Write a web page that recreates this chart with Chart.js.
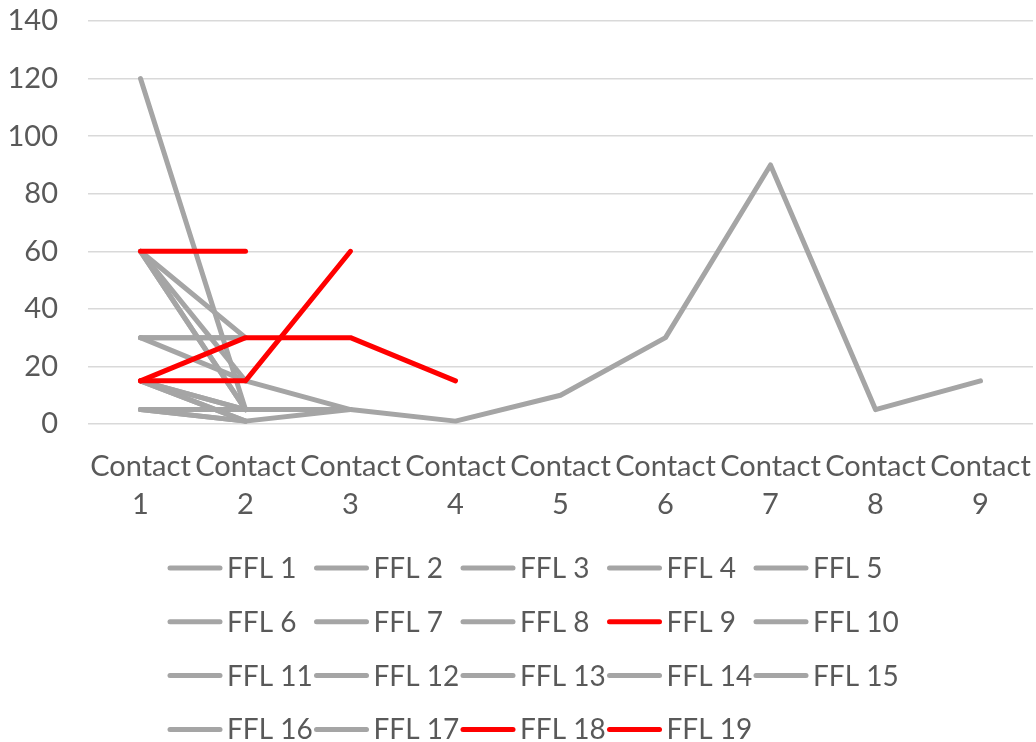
<!DOCTYPE html>
<html lang="en">
<head>
    <meta charset="UTF-8">
    <title>FFL contacts</title>
    <script src="https://cdn.jsdelivr.net/npm/chart.js"></script>
    <style>
        html, body {
            margin: 0;
            padding: 0;
            background: #ffffff;
        }
        #wrap {
            width: 1036px;
            height: 742px;
        }
    </style>
</head>
<body>
    <div id="wrap"><canvas id="chart"></canvas></div>

    <script>
        const contacts = ['1', '2', '3', '4', '5', '6', '7', '8', '9'];
        const yTicks = [0, 20, 40, 60, 80, 100, 120, 140];

        const ffl1 = [120, 5];
        const ffl2 = [60, 30];
        const ffl3 = [60, 15];
        const ffl4 = [60, 5];
        const ffl5 = [30, 30];
        const ffl6 = [30, 15, 5, 1, 10, 30, 90, 5, 15];
        const ffl7 = [15, 5];
        const ffl8 = [15, 1];
        const ffl9 = [60, 60];
        const ffl10 = [5, 5, 5];
        const ffl11 = [5, 1, 5];
        const ffl12 = [60, 5];
        const ffl13 = [5, 1];
        const ffl14 = [15, 5];
        const ffl15 = [30, 30];
        const ffl16 = [15, 1];
        const ffl17 = [5, 5];
        const ffl18 = [15, 15, 60];
        const ffl19 = [15, 30, 30, 15];

        const series = [ffl1, ffl2, ffl3, ffl4, ffl5, ffl6, ffl7, ffl8, ffl9, ffl10,
                        ffl11, ffl12, ffl13, ffl14, ffl15, ffl16, ffl17, ffl18, ffl19];
        const highlighted = [9, 18, 19];

        const GREY = '#a5a5a5';
        const RED = '#ff0000';
        const TEXT = '#595959';
        const FONT = 'Lato';
        const FONT_SIZE = 29;

        const datasets = series.map((values, i) => {
            const n = i + 1;
            const hot = highlighted.includes(n);
            return {
                label: 'FFL ' + n,
                data: contacts.map((c, j) => j < values.length ? values[j] : null),
                borderColor: hot ? RED : GREY,
                backgroundColor: hot ? RED : GREY,
                borderWidth: 5,
                borderCapStyle: 'round',
                borderJoinStyle: 'round',
                pointRadius: 0,
                pointHoverRadius: 0,
                tension: 0,
                spanGaps: false,
                order: hot ? 0 : 1
            };
        });

        // Excel style legend: fixed grid, 5 columns, left aligned rows
        const gridLegend = {
            id: 'gridLegend',
            afterDraw(chart) {
                const ctx = chart.ctx;
                const cols = 5, x0 = 168, colW = 146.5, y0 = 568, rowH = 53.8, lineLen = 54;
                ctx.save();
                ctx.font = '28px ' + FONT;
                ctx.textBaseline = 'middle';
                ctx.textAlign = 'left';
                chart.data.datasets.forEach((ds, i) => {
                    const x = x0 + (i % cols) * colW;
                    const y = y0 + Math.floor(i / cols) * rowH;
                    ctx.strokeStyle = ds.borderColor;
                    ctx.lineWidth = 5;
                    ctx.lineCap = 'round';
                    ctx.beginPath();
                    ctx.moveTo(x + 2, y);
                    ctx.lineTo(x + lineLen - 2, y);
                    ctx.stroke();
                    ctx.fillStyle = TEXT;
                    ctx.fillText(ds.label, x + lineLen + 5, y + 1);
                });
                ctx.restore();
            }
        };

        new Chart(document.getElementById('chart'), {
            type: 'line',
            data: {
                labels: contacts.map(c => ['Contact', c]),
                datasets: datasets
            },
            plugins: [gridLegend],
            options: {
                responsive: true,
                maintainAspectRatio: false,
                animation: false,
                layout: {
                    padding: { top: 21, right: 3, bottom: 212, left: 0 }
                },
                plugins: {
                    legend: { display: false },
                    tooltip: { enabled: false }
                },
                scales: {
                    x: {
                        offset: true,
                        grid: { display: false, drawTicks: false },
                        border: { display: false },
                        ticks: {
                            autoSkip: false,
                            maxRotation: 0,
                            padding: 24,
                            color: TEXT,
                            font: { family: FONT, size: FONT_SIZE, lineHeight: 1.3 }
                        },
                        afterFit: (scale) => {
                            scale.height = 106;
                            scale.paddingLeft = 0;
                            scale.paddingRight = 0;
                        }
                    },
                    y: {
                        min: 0,
                        max: 140,
                        afterBuildTicks: (scale) => { scale.ticks = yTicks.map(v => ({ value: v })); },
                        grid: { color: '#d9d9d9', lineWidth: 1.5, drawTicks: false },
                        border: { display: false },
                        ticks: {
                            padding: 30,
                            color: TEXT,
                            font: { family: FONT, size: FONT_SIZE }
                        },
                        afterFit: (scale) => {
                            scale.width = 88;
                            scale.paddingTop = 0;
                            scale.paddingBottom = 0;
                        }
                    }
                }
            }
        });
    </script>
</body>
</html>
